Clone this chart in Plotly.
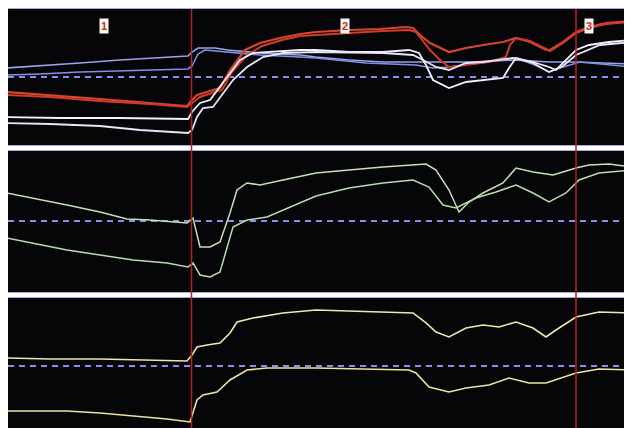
import plotly.graph_objects as go

# ---- Panel 1 (top): blue, red and white traces ----
blue1_t = [0, 34, 74, 114, 154, 182, 186, 192, 209, 222, 254, 294, 310, 343, 377, 414, 464, 510, 543, 570, 594, 626]
blue1_v = [77, 79, 82, 85, 87, 89, 93, 97, 97, 95, 92, 90, 88, 85, 83, 83, 83, 85, 83, 83, 82, 81]

blue2_t = [0, 34, 74, 114, 154, 182, 186, 192, 199, 224, 254, 294, 310, 360, 410, 427, 443, 474, 510, 529, 543, 557, 574, 626]
blue2_v = [70, 71, 73, 74, 75, 76, 79, 91, 95, 93, 90, 88, 87, 82, 80, 77, 78, 82, 87, 80, 73, 78, 83, 78]

red1_t = [0, 44, 94, 144, 181, 186, 191, 204, 214, 224, 239, 254, 274, 294, 310, 344, 374, 400, 407, 414, 424, 443, 460, 477, 497, 510, 524, 540, 544, 557, 570, 583, 600, 626]
red1_v = [53, 50, 46, 42, 39, 45, 50, 54, 57, 75, 95, 102, 107, 111, 113, 115, 116, 118, 117, 110, 102, 93, 97, 100, 103, 107, 103, 95, 95, 103, 113, 118, 122, 124]

red2_t = [0, 44, 94, 144, 181, 186, 194, 206, 216, 226, 241, 256, 276, 294, 310, 344, 377, 403, 410, 424, 434, 443, 460, 483, 500, 504, 510, 524, 540, 544, 557, 570, 583, 600, 626]
red2_v = [50, 48, 44, 41, 38, 42, 48, 52, 55, 73, 90, 99, 105, 109, 110, 112, 114, 115, 113, 95, 85, 78, 80, 83, 88, 100, 107, 104, 96, 94, 102, 112, 117, 121, 123]

white1_t = [0, 54, 114, 182, 186, 194, 204, 214, 224, 234, 247, 267, 294, 310, 343, 377, 403, 413, 420, 427, 443, 460, 477, 497, 503, 510, 527, 543, 550, 557, 570, 583, 603, 626]
white1_v = [28, 27, 27, 26, 33, 42, 45, 58, 72, 85, 92, 93, 95, 95, 93, 93, 95, 92, 80, 65, 57, 63, 65, 67, 77, 87, 83, 78, 75, 82, 95, 100, 103, 105]

white2_t = [0, 44, 94, 134, 182, 186, 191, 197, 207, 217, 227, 241, 257, 277, 310, 377, 407, 417, 430, 443, 460, 477, 507, 527, 543, 557, 570, 594, 626]
white2_v = [22, 21, 19, 15, 12, 15, 28, 37, 38, 52, 65, 78, 88, 92, 93, 92, 90, 85, 78, 75, 82, 83, 87, 82, 73, 79, 90, 100, 103]

# ---- Panel 2 (middle): green traces ----
green1_t = [1, 27, 61, 94, 121, 144, 181, 187, 194, 204, 214, 224, 231, 241, 254, 277, 310, 343, 377, 420, 430, 443, 453, 463, 477, 497, 510, 527, 547, 570, 583, 603, 626]
green1_v = [99, 94, 87, 80, 73, 72, 69, 74, 45, 45, 50, 79, 102, 109, 107, 112, 119, 122, 125, 128, 122, 102, 80, 90, 99, 109, 124, 120, 117, 124, 127, 128, 125]

green2_t = [1, 27, 61, 94, 127, 161, 182, 187, 194, 204, 214, 227, 241, 261, 284, 310, 343, 377, 407, 423, 437, 450, 470, 490, 510, 527, 543, 560, 573, 593, 626]
green2_v = [54, 49, 42, 37, 32, 29, 25, 29, 17, 15, 20, 65, 72, 75, 85, 96, 104, 109, 112, 105, 87, 84, 94, 100, 107, 99, 90, 99, 112, 119, 122]

# ---- Panel 3 (bottom): yellow traces ----
yellow1_t = [1, 44, 94, 144, 167, 181, 186, 191, 201, 214, 224, 231, 247, 277, 310, 343, 377, 407, 420, 430, 443, 460, 477, 493, 510, 527, 540, 550, 570, 593, 626]
yellow1_v = [70, 69, 69, 68, 67, 67, 73, 81, 83, 85, 95, 106, 110, 115, 118, 117, 116, 115, 105, 96, 91, 100, 103, 101, 106, 100, 91, 98, 111, 116, 115]

yellow2_t = [1, 61, 94, 127, 161, 184, 191, 197, 211, 224, 241, 261, 310, 403, 410, 423, 443, 460, 483, 503, 523, 540, 570, 593, 626]
yellow2_v = [17, 17, 15, 12, 9, 6, 28, 33, 36, 48, 58, 60, 60, 58, 55, 41, 36, 40, 43, 50, 45, 45, 55, 59, 58]

# reference (dashed) levels per panel, event markers and labels
baselines = [68, 71, 62]
panel_ranges = [[0, 136], [0, 141], [0, 130]]
event_times = [185.5, 570]
phase_labels = ["1", "2", "3"]
phase_label_times = [98, 339, 583]
time_range = [2, 626]

fig = go.Figure()

def add(t, v, color, width, axis):
    fig.add_trace(go.Scatter(x=t, y=v, mode="lines", xaxis="x" + axis, yaxis="y" + axis,
                             line=dict(color=color, width=width), hoverinfo="skip", showlegend=False))

add(blue1_t, blue1_v, "#97a3ec", 1.6, "")
add(blue2_t, blue2_v, "#8390e0", 1.6, "")
add(red1_t, red1_v, "#d8442e", 2.2, "")
add(red2_t, red2_v, "#cf3b28", 2.0, "")
add(white1_t, white1_v, "#f2f0ff", 1.8, "")
add(white2_t, white2_v, "#e6e6fa", 1.8, "")
add(green1_t, green1_v, "#c2e2b4", 1.5, "2")
add(green2_t, green2_v, "#b8dcae", 1.5, "2")
add(yellow1_t, yellow1_v, "#f0e8a8", 1.6, "3")
add(yellow2_t, yellow2_v, "#ece3a0", 1.6, "3")

domains = [[0.6754, 1.0], [0.3246, 0.6611], [0.0, 0.3103]]
axis_common = dict(showgrid=False, zeroline=False, showticklabels=False, ticks="",
                   showline=True, linecolor="#a9a9e0", linewidth=1, mirror=True, fixedrange=True)
layout_axes = {}
for i, (dom, rng) in enumerate(zip(domains, panel_ranges)):
    suf = "" if i == 0 else str(i + 1)
    layout_axes["xaxis" + suf] = dict(range=time_range, anchor="y" + suf, domain=[0, 1], **axis_common)
    layout_axes["yaxis" + suf] = dict(range=rng, anchor="x" + suf, domain=dom, **axis_common)

shapes = []
for i, b in enumerate(baselines):
    suf = "" if i == 0 else str(i + 1)
    shapes.append(dict(type="line", xref="x" + suf + " domain", x0=0, x1=1, yref="y" + suf, y0=b, y1=b,
                       line=dict(color="#8c8cf0", width=2, dash="6px,5px"), layer="below"))
for et in event_times:
    shapes.append(dict(type="line", xref="x", x0=et, x1=et, yref="paper", y0=0, y1=1,
                       line=dict(color="#b52222", width=1.5)))

annotations = []
for lab, lt in zip(phase_labels, phase_label_times):
    annotations.append(dict(x=lt, xref="x", y=0.978, yref="paper", text="<b>" + lab + "</b>",
                            showarrow=False, font=dict(family="Liberation Sans, Arial", size=11, color="#c0301e"),
                            bgcolor="#fbf6f0", borderpad=1))

# the page body adds an 8px offset, so the figure is sized to fit the 632x428 window
fig.update_layout(width=624, height=420, margin=dict(l=0, r=0, t=1, b=0),
                  paper_bgcolor="white", plot_bgcolor="#060609",
                  shapes=shapes, annotations=annotations, **layout_axes)

fig.write_html("out.html")
